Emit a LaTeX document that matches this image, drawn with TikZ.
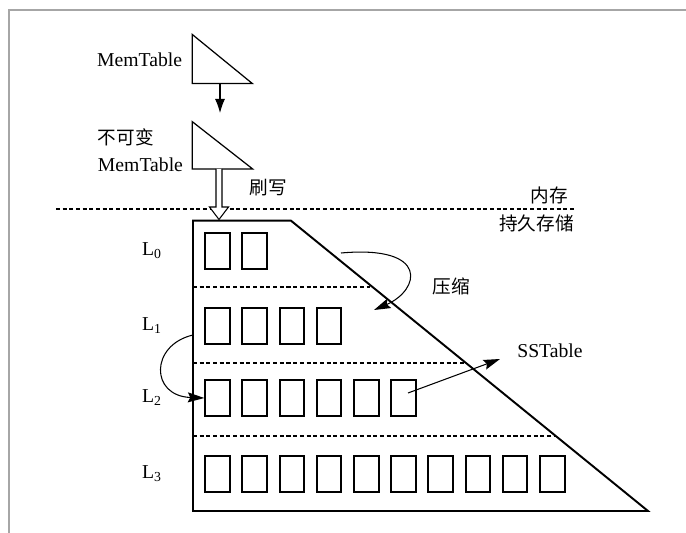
\documentclass[tikz,border=0pt]{standalone}
\usepackage{fontspec}
\setmainfont{Liberation Serif}
\newfontfamily\cjk{Noto Sans CJK SC}
\usetikzlibrary{arrows.meta, calc}

\begin{document}
\begin{tikzpicture}[
    x=0.02cm, y=-0.02cm,
    label text/.style={
        inner sep=0pt,
        font=\fontsize{11.2}{13}\selectfont
    },
    cn text/.style={
        inner sep=0pt,
        font=\fontsize{10.6}{13}\selectfont\cjk
    },
    mem triangle/.style={
        draw=black,
        line width=0.7pt
    },
    storage shape/.style={
        draw=black,
        line width=1.1pt,
        line join=miter
    },
    table box/.style={
        draw=black,
        line width=1.1pt,
        minimum width=0.49cm,
        minimum height=0.72cm,
        inner sep=0pt
    },
    level sep/.style={
        draw=black,
        line width=0.6pt,
        dash pattern=on 2.3pt off 1.5pt
    },
    flow arrow/.style={
        draw=black,
        line width=0.6pt,
        -{Stealth[length=3.3mm, width=2mm, inset=0.5mm]}
    },
    flush arrow/.style={
        draw=black,
        fill=white,
        line width=0.6pt
    }
]
    \useasboundingbox (0,0) rectangle (686,533);

    % 外框（只有上边和左边）
    \draw[draw=black!35, line width=1.2pt] (9,533) -- (9,10) -- (686,10);

    % 内存中的两个 MemTable
    \coordinate (mem top) at (192.3,34.5);
    \coordinate (mem base) at (192.3,83.5);
    \coordinate (imm top) at (192.3,121.7);
    \coordinate (imm base) at (192.3,169);
    \draw[mem triangle] (mem top) -- (mem base) -- ++(60,0) -- cycle;
    \draw[mem triangle] (imm top) -- (imm base) -- ++(60.4,0) -- cycle;
    \node[label text, anchor=east] (mem label) at (182.5,59.5) {MemTable};
    \node[cn text, anchor=west] (imm label) at (97.5,137) {不可变};
    \node[label text, anchor=east] (imm mem label) at (183.3,164.5) {MemTable};

    \coordinate (switch start) at (220,83.5);
    \coordinate (switch end) at (220,113);
    \draw[line width=0.6pt, -{Latex[length=2.8mm, width=2mm]}] (switch start) -- (switch end);

    % 内存 / 持久存储 分界线
    \draw[level sep] (56,209) -- (574,209);
    \node[cn text, anchor=east] (mem zone) at (568,195) {内存};
    \node[cn text, anchor=east] (disk zone) at (574,223.5) {持久存储};

    % 刷写（空心箭头）
    \coordinate (flush top) at (219,169);
    \coordinate (flush tip) at (219,219.5);
    \draw[flush arrow] ($(flush top)+(-3,0)$) -- ($(flush tip)+(-3,-12.5)$)
        -- ($(flush tip)+(-9.5,-12.5)$) -- (flush tip)
        -- ($(flush tip)+(9.5,-12.5)$) -- ($(flush tip)+(3,-12.5)$)
        -- ($(flush top)+(3,0)$);
    \node[cn text] (flush label) at (268.5,187.5) {刷写};

    % 持久存储的梯形
    \coordinate (trap tl) at (193,220.7);
    \coordinate (trap tr) at (291,220.7);
    \coordinate (trap br) at (648,511);
    \coordinate (trap bl) at (193,511);
    \draw[storage shape] (trap tl) -- (trap tr) -- (trap br) -- (trap bl) -- cycle;

    % 各层之间的虚线
    \draw[level sep] (193,287) -- (370,287);
    \draw[level sep] (193,363) -- (466,363);
    \draw[level sep] (193,436) -- (556,436);

    % 各层的 SSTable
    \foreach \row/\num/\yy in {0/2/251, 1/4/326, 2/6/398, 3/10/474} {
        \node[label text] (lab\row) at (152,\yy) {L\textsubscript{\row}};
        \foreach \i in {1,...,\num}
            \node[table box] (l\row-\i) at ({217.5+37.2*(\i-1)},\yy) {};
    }

    % 压缩
    \coordinate (compact start) at (341,253);
    \coordinate (compact end) at (374,310);
    \draw[flow arrow] (compact start) .. controls (430,245) and (420,290) .. (compact end);
    \node[cn text] (compact label) at (451.5,286.5) {压缩};

    % L1 -> L2
    \coordinate (level start) at (193,335);
    \draw[flow arrow] (level start) .. controls (150,345) and (150,396) .. (l2-1.west);

    % SSTable
    \coordinate (sst end) at (500,359);
    \draw[flow arrow] ($(l2-6.center)+(4.5,-5)$) -- (sst end);
    \node[label text] (sst label) at (550,351) {SSTable};
\end{tikzpicture}
\end{document}
